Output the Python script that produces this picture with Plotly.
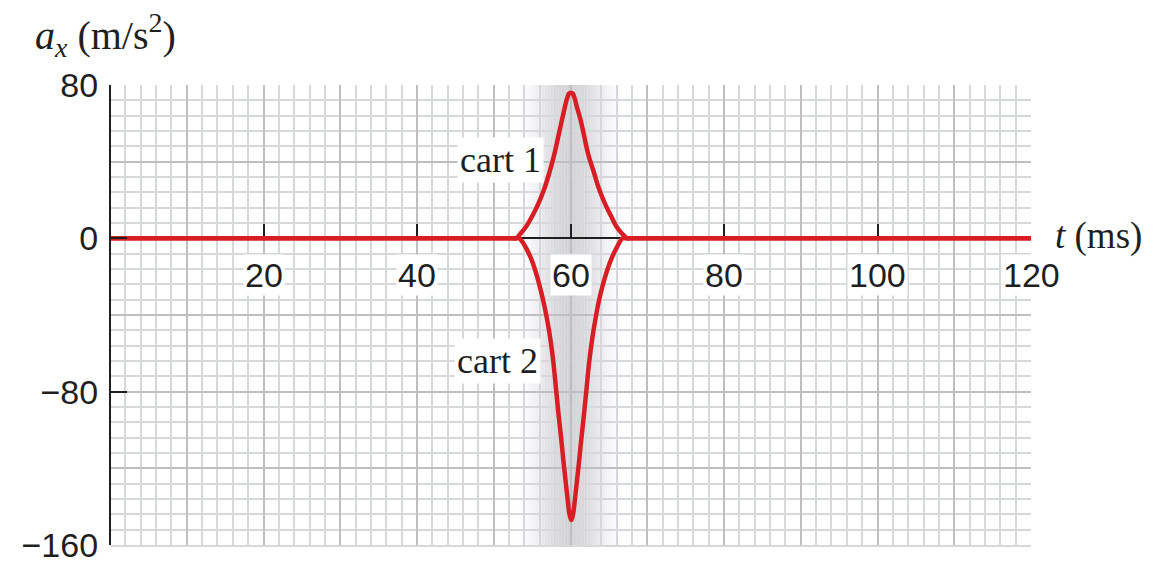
import math
import plotly.graph_objects as go

# Acceleration of two colliding carts, a_x (m/s^2) against t (ms)
cart1_t = [0, 45, 51.5, 52.5, 52.9, 53.5, 54.2, 55.0, 55.8, 56.6, 57.3, 57.9, 58.4, 58.9, 59.3, 59.55,
           59.8, 60.05, 60.3, 60.55, 60.8, 61.3, 61.8, 62.3, 63.0, 63.7, 64.5, 65.3, 66.0, 66.7, 67.4,
           67.8, 68.8, 75, 120]
cart1_a = [0, 0, 0, 0, 0, 2.5, 6, 11.5, 18, 26, 35, 44, 53, 62, 69, 73,
           75.5, 76, 75.5, 73, 69, 62, 53, 44, 35, 26, 18, 11.5, 6, 2.5, 0,
           0, 0, 0, 0]

cart2_t = [0, 45, 51.8, 52.8, 53.3, 54.2, 55.1, 56.3, 57.2, 57.75, 58.15, 58.45, 58.8, 59.1, 59.4,
           59.65, 59.87, 60.1, 60.33, 60.55, 60.8, 61.1, 61.4, 61.75, 62.05, 62.45, 63.0, 63.85,
           65.1, 66.0, 66.8, 67.3, 68.3, 75, 120]
cart2_a = [0, 0, 0, 0, 0, -5, -13, -30, -48, -64, -80, -92, -105, -117, -128,
           -137, -144, -147, -144, -137, -128, -117, -105, -92, -80, -64, -48, -30,
           -13, -5, 0, 0, 0, 0, 0]

x_ticks = [20, 40, 60, 80, 100, 120]
y_ticks = [-160, -80, 0, 80]
x_range = [0, 120]
y_range = [-160, 80]

RED = "#d81e24"
INK = "#1f1f1f"
GRID_MAJOR = "#bdbfc1"
GRID_MINOR = "#d6d9dc"
SANS = "Liberation Sans, Arial, sans-serif"
SERIF = "Liberation Serif, Times New Roman, serif"

fig = go.Figure()

for ts, vals in ((cart2_t, cart2_a), (cart1_t, cart1_a)):
    fig.add_trace(go.Scatter(x=ts, y=vals, mode="lines",
                             line=dict(color=RED, width=4.5, shape="spline", smoothing=1.0),
                             hoverinfo="skip", showlegend=False))
# empty trace so the overlay axes (axis lines and ticks) are drawn
fig.add_trace(go.Scatter(x=[], y=[], xaxis="x2", yaxis="y2", showlegend=False, hoverinfo="skip"))

# shaded collision interval: soft gray band fading out to both sides
band_lo, band_hi, band_mid = 52.6, 67.4, 60.0
n_strips = 74
step = (band_hi - band_lo) / n_strips
shapes = []
for i in range(n_strips):
    x0 = band_lo + i * step
    xc = x0 + step / 2
    d = abs(xc - band_mid) / ((band_hi - band_lo) / 2)
    k = math.cos(math.pi / 2 * min(d, 1.0)) ** 2
    g = round(255 - 44 * k)
    shapes.append(dict(type="rect", xref="x", yref="paper", x0=x0, x1=x0 + step + 0.02,
                       y0=0, y1=1, layer="below", line=dict(width=0),
                       fillcolor=f"rgb({g},{g},{min(255, g + 3)})"))

annotations = []
for t in x_ticks:
    annotations.append(dict(x=t, y=0, xref="x", yref="y", text=str(t), showarrow=False,
                            yanchor="middle", yshift=-37, bgcolor="white", borderpad=1,
                            font=dict(family=SANS, size=34, color=INK)))

annotations += [
    dict(x=56.6, y=41, xref="x", yref="y", text="cart 1", showarrow=False,
         xanchor="right", yanchor="middle", bgcolor="white", borderpad=2,
         font=dict(family=SERIF, size=36, color=INK)),
    dict(x=56.1, y=-64, xref="x", yref="y", text="cart 2", showarrow=False,
         xanchor="right", yanchor="middle", bgcolor="white", borderpad=2,
         font=dict(family=SERIF, size=36, color=INK)),
    dict(x=0, y=1, xref="paper", yref="paper", text="<i>a</i><sub><i>x</i></sub> (m/s<sup>2</sup>)",
         showarrow=False, xanchor="left", yanchor="middle", xshift=-77, yshift=50,
         font=dict(family=SERIF, size=40, color=INK)),
    dict(x=1, y=0, xref="paper", yref="y", text="<i>t</i> (ms)", showarrow=False,
         xanchor="left", yanchor="middle", xshift=22, yshift=2,
         font=dict(family=SERIF, size=37, color=INK)),
]

fig.update_layout(
    width=1155, height=568,
    margin=dict(l=110, r=124, t=85, b=23, autoexpand=False),
    paper_bgcolor="white", plot_bgcolor="white",
    shapes=shapes, annotations=annotations,
    xaxis=dict(range=x_range, domain=[0, 1], dtick=10, tick0=0, showgrid=True,
               gridcolor=GRID_MAJOR, gridwidth=1.6,
               minor=dict(dtick=2, ticks="", showgrid=True, gridcolor=GRID_MINOR, gridwidth=1.6),
               showticklabels=False, ticks="", zeroline=False, automargin=False,
               showline=True, linecolor=GRID_MINOR, linewidth=1.6, fixedrange=True),
    yaxis=dict(range=y_range, domain=[0, 1], dtick=40, tick0=0, showgrid=True,
               gridcolor=GRID_MAJOR, gridwidth=1.6, automargin=False,
               minor=dict(dtick=8, ticks="", showgrid=True, gridcolor=GRID_MINOR, gridwidth=1.6),
               showticklabels=False, ticks="", zeroline=False, showline=False, fixedrange=True),
    xaxis2=dict(range=x_range, overlaying="x", anchor="free", position=2 / 3,
                tickmode="array", tickvals=x_ticks, ticks="inside", ticklen=14,
                tickwidth=1.8, tickcolor=INK, showline=True, linecolor=INK, linewidth=1.6,
                showticklabels=False, showgrid=False, zeroline=False, layer="below traces",
                automargin=False),
    yaxis2=dict(range=y_range, overlaying="y", anchor="free", position=0, side="left",
                tickmode="array", tickvals=y_ticks, ticks="inside", ticklen=16,
                tickwidth=2, tickcolor=INK, showline=True, linecolor=INK, linewidth=2.2,
                showgrid=False, zeroline=False, ticklabelstandoff=4, automargin=False,
                tickfont=dict(family=SANS, size=34, color=INK)),
)

fig.write_html("out.html")
